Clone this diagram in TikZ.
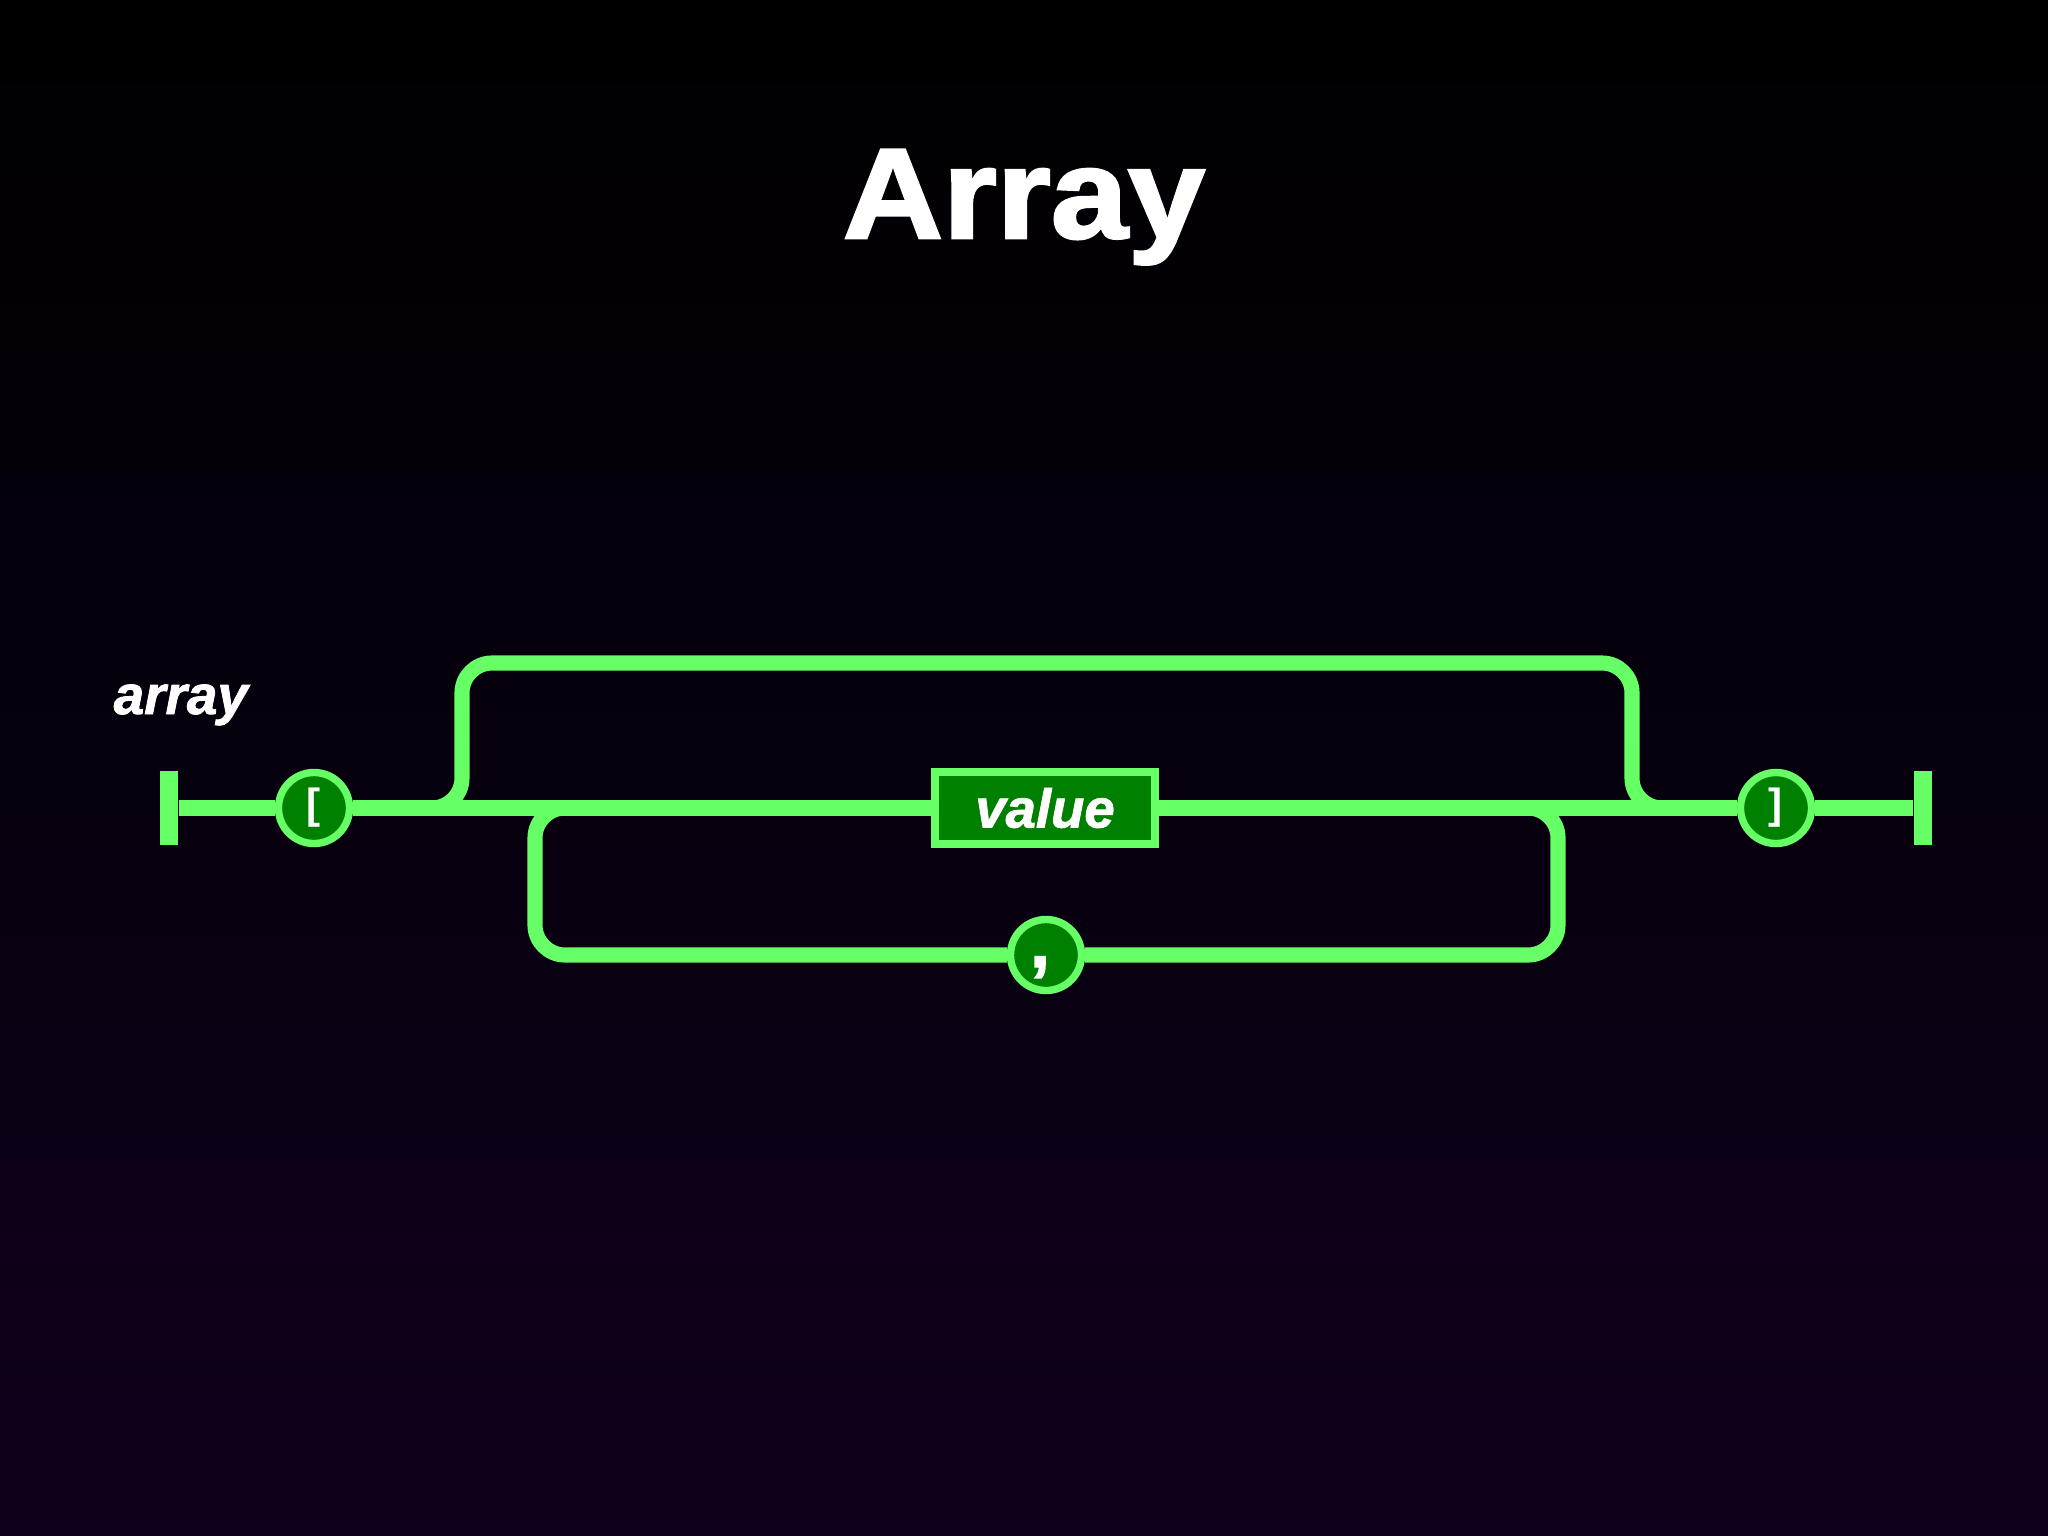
\documentclass[tikz,border=0pt]{standalone}
\usepackage{fontspec}
\setmainfont{Liberation Sans}
\newfontfamily\heavyfont{Liberation Sans}[BoldFeatures={FakeBold=2}, BoldItalicFeatures={FakeBold=1.5}]
\definecolor{lg}{RGB}{102,255,102}
\definecolor{dg}{RGB}{0,128,0}
\definecolor{bgbot}{RGB}{14,0,28}
\definecolor{bgmid}{RGB}{5,0,12}
\tikzset{
  rail/.style={draw=lg, line width=4.3pt, rounded corners=0.3cm},
  term/.style={circle, draw=lg, fill=dg, line width=2.1pt, minimum size=0.71cm, inner sep=0pt, text=white, font=\bfseries\fontsize{12}{12}\selectfont},
  nonterm/.style={rectangle, draw=lg, fill=dg, line width=2.3pt, minimum width=2.19cm, minimum height=0.725cm, inner sep=0pt, text=white, font=\heavyfont\bfseries\itshape\fontsize{15.5}{16}\selectfont},
  endbar/.style={rectangle, fill=lg, minimum width=0.18cm, minimum height=0.74cm, inner sep=0pt},
  lbl/.style={text=white, font=\heavyfont\bfseries\itshape\fontsize{15.6}{16}\selectfont, inner sep=0pt}
}
\begin{document}
\begin{tikzpicture}[x=0.01cm,y=-0.01cm]
\useasboundingbox (0,0) rectangle (2048,1536);
\shade[top color=black, middle color=bgmid, bottom color=bgbot] (0,0) rectangle (2048,1536);
\node[text=white, font=\heavyfont\bfseries\fontsize{36.5}{40}\selectfont, inner sep=0pt, anchor=base, xscale=1.08] (title) at (1024,238) {Array};
\node[lbl, anchor=base west] (name) at (113,714) {array};
% nodes
\node[endbar] (lbar) at (169,808) {};
\node[endbar] (rbar) at (1923,808) {};
\node[term] (lbr) at (314,808) {[};
\node[term] (rbr) at (1776,808) {]};
\node[nonterm] (val) at (1045,808) {value};
\node[term, font=\heavyfont\bfseries\fontsize{20}{20}\selectfont] (comma) at (1046,955) {\raisebox{-0.12cm}[0pt][0pt]{\makebox[0pt]{\hspace{-0.12cm},}}};
% coordinates
\coordinate (t0) at (400,808);
\coordinate (t1) at (462,808);
\coordinate (t2) at (462,663);
\coordinate (t3) at (1632,663);
\coordinate (t4) at (1632,808);
\coordinate (t5) at (1700,808);
\coordinate (b0) at (600,808);
\coordinate (b1) at (535,808);
\coordinate (b2) at (535,955);
\coordinate (b3) at (1558,955);
\coordinate (b4) at (1558,808);
\coordinate (b5) at (1490,808);
% main rail
\draw[rail] (lbar) -- (lbr);
\draw[rail] (lbr) -- (val);
\draw[rail] (val) -- (rbr);
\draw[rail] (rbr) -- (rbar);
% top bypass loop
\draw[rail] (t0) -- (t1) -- (t2) -- (t3) -- (t4) -- (t5);
% bottom repeat loop
\draw[rail] (b0) -- (b1) -- (b2) -- (comma);
\draw[rail] (comma) -- (b3) -- (b4) -- (b5);
\end{tikzpicture}
\end{document}
